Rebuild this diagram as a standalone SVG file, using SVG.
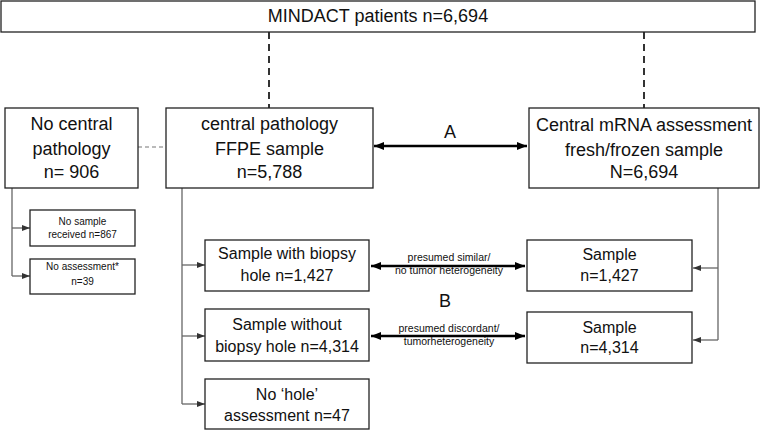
<svg xmlns="http://www.w3.org/2000/svg" width="761" height="431" viewBox="0 0 761 431">
<defs>
<style>
.box{fill:#fff;stroke:#222;stroke-width:1.3}
.t{font-family:"Liberation Sans",Arial,sans-serif;font-size:18px;fill:#111;text-anchor:middle}
.m{font-family:"Liberation Sans",Arial,sans-serif;font-size:16px;fill:#111;text-anchor:middle}
.s{font-family:"Liberation Sans",Arial,sans-serif;font-size:10px;fill:#111;text-anchor:middle}
.l{font-family:"Liberation Sans",Arial,sans-serif;font-size:10.5px;fill:#111;text-anchor:middle}
.dash{stroke:#333;stroke-width:2;stroke-dasharray:7,5;fill:none}
.dash2{stroke:#777;stroke-width:1.2;stroke-dasharray:4,3;fill:none}
.thin{stroke:#666;stroke-width:1.3;fill:none}
.thick{stroke:#000;stroke-width:2.4;fill:none}
</style>
<marker id="ah" viewBox="0 0 10 8" refX="10" refY="4" markerWidth="10" markerHeight="8" markerUnits="userSpaceOnUse" orient="auto-start-reverse">
<path d="M0,0L10,4L0,8z" fill="#000"/>
</marker>
<marker id="sh" viewBox="0 0 8 6" refX="8" refY="3" markerWidth="8" markerHeight="6" markerUnits="userSpaceOnUse" orient="auto">
<path d="M0,0L8,3L0,6z" fill="#333"/>
</marker>
</defs>
<g id="connectors">
<path class="dash" d="M269,32V108"/>
<path class="dash" d="M644,32V108"/>
<path class="dash2" d="M138,147H166"/>
<path class="thick" d="M374,146H527" marker-start="url(#ah)" marker-end="url(#ah)"/>
<path class="thick" d="M371,266H525" marker-start="url(#ah)" marker-end="url(#ah)"/>
<path class="thick" d="M371,336H525" marker-start="url(#ah)" marker-end="url(#ah)"/>
<path class="thin" d="M12,188V276"/>
<path class="thin" d="M12,228H30" marker-end="url(#sh)"/>
<path class="thin" d="M12,276H30" marker-end="url(#sh)"/>
<path class="thin" d="M182,188V404"/>
<path class="thin" d="M182,265H205" marker-end="url(#sh)"/>
<path class="thin" d="M182,336H205" marker-end="url(#sh)"/>
<path class="thin" d="M182,404H205" marker-end="url(#sh)"/>
<path class="thin" d="M718,188V340"/>
<path class="thin" d="M718,268H693" marker-end="url(#sh)"/>
<path class="thin" d="M718,340H693" marker-end="url(#sh)"/>
<text class="t" x="450" y="138">A</text>
<text class="t" x="445" y="307">B</text>
<text class="l" x="449" y="261">presumed similar/</text>
<text class="l" x="449" y="274">no tumor  heterogeneity</text>
<text class="l" x="449" y="332">presumed discordant/</text>
<text class="l" x="449" y="345">tumorheterogeneity</text>
</g>
<g id="top">
<rect class="box" x="1" y="1" width="754" height="31"/>
<text class="t" x="378" y="22">MINDACT patients n=6,694</text>
</g>
<g id="nocentral">
<rect class="box" x="5" y="108" width="133" height="80"/>
<text class="t" x="71.5" y="130">No central</text>
<text class="t" x="71.5" y="155">pathology</text>
<text class="t" x="71.5" y="178">n= 906</text>
</g>
<g id="central">
<rect class="box" x="166" y="108" width="207" height="80"/>
<text class="t" x="269.5" y="130">central pathology</text>
<text class="t" x="269.5" y="155">FFPE sample</text>
<text class="t" x="269.5" y="178">n=5,788</text>
</g>
<g id="mrna">
<rect class="box" x="529" y="108" width="230" height="80"/>
<text class="t" x="644" y="131">Central mRNA assessment</text>
<text class="t" x="644" y="156">fresh/frozen sample</text>
<text class="t" x="644" y="178">N=6,694</text>
</g>
<g id="nosample">
<rect class="box" x="30" y="210" width="105" height="36"/>
<text class="s" x="82.5" y="225">No sample</text>
<text class="s" x="82.5" y="238">received n=867</text>
</g>
<g id="noassess">
<rect class="box" x="30" y="259" width="105" height="35"/>
<text class="s" x="82.5" y="270">No assessment*</text>
<text class="s" x="82.5" y="285">n=39</text>
</g>
<g id="withhole">
<rect class="box" x="205" y="240" width="164" height="51"/>
<text class="m" x="287" y="259">Sample with biopsy</text>
<text class="m" x="287" y="281">hole n=1,427</text>
</g>
<g id="withouthole">
<rect class="box" x="205" y="309" width="164" height="52"/>
<text class="m" x="287" y="330">Sample without</text>
<text class="m" x="287" y="352">biopsy hole n=4,314</text>
</g>
<g id="nohole">
<rect class="box" x="205" y="379" width="164" height="50"/>
<text class="m" x="287" y="400">No ‘hole’</text>
<text class="m" x="287" y="421">assessment  n=47</text>
</g>
<g id="sample1">
<rect class="box" x="527" y="240" width="165" height="51"/>
<text class="m" x="609.5" y="260">Sample</text>
<text class="m" x="609.5" y="281">n=1,427</text>
</g>
<g id="sample2">
<rect class="box" x="527" y="312" width="165" height="51"/>
<text class="m" x="609.5" y="333">Sample</text>
<text class="m" x="609.5" y="353">n=4,314</text>
</g>
</svg>
